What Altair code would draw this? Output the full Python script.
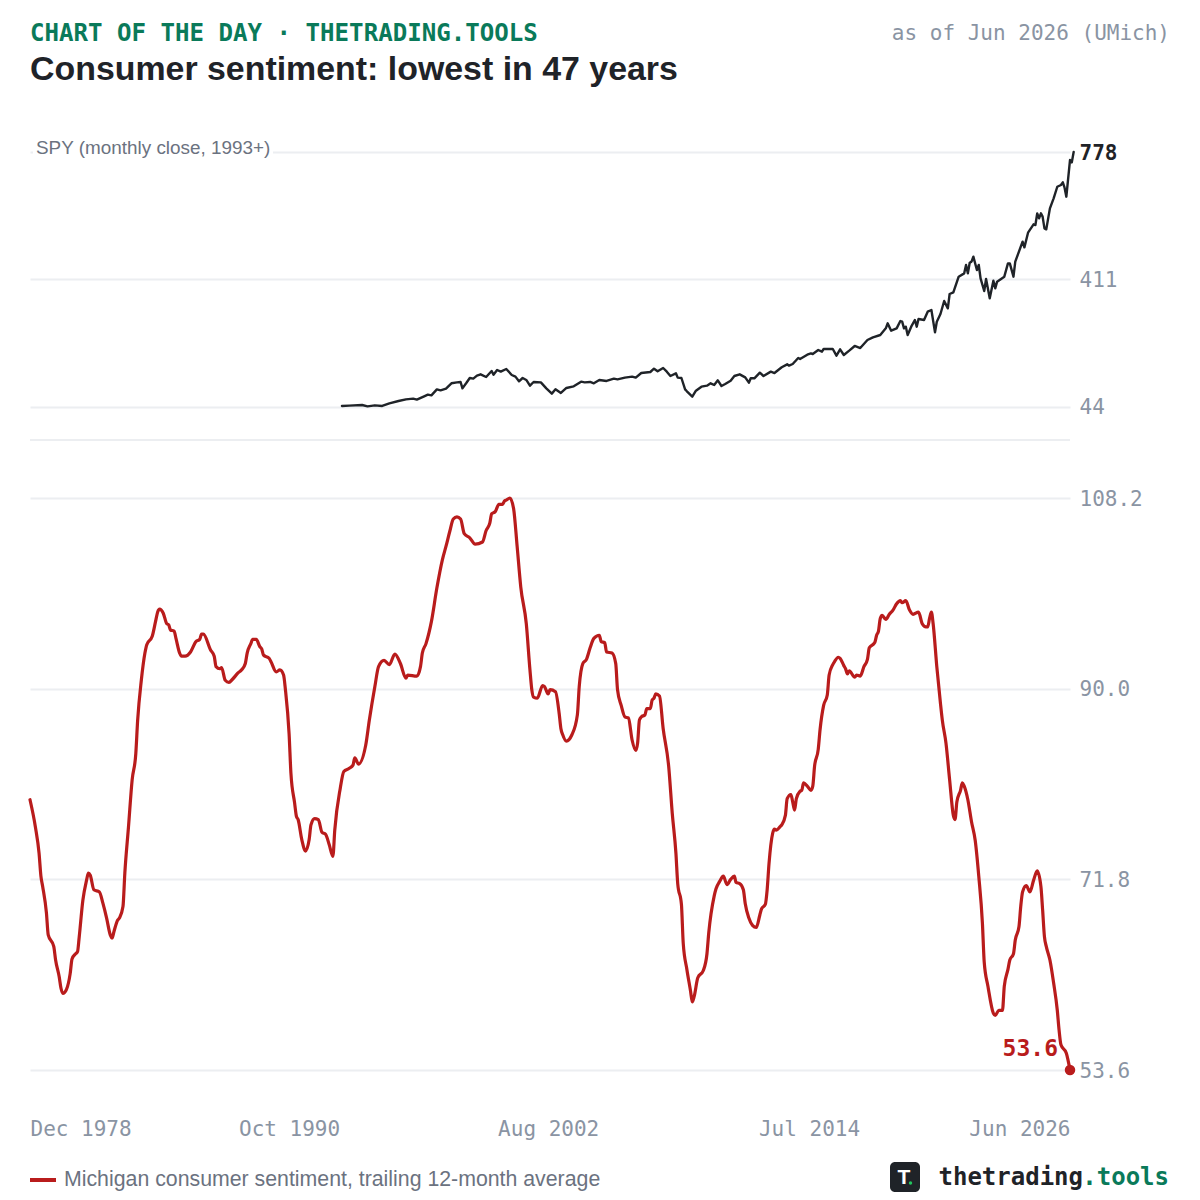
import pandas as pd
import altair as alt

START = pd.Timestamp("1978-12-01", tz="UTC")

SERIES_NAME = "Michigan consumer sentiment, trailing 12-month average"

sent_months = [0,3,5,6,7,9,10,13,14,16,17,18,20,22,23,25,26,27,29,31,32,33,35,38,40,42,44,45,46,48,49,51,52,54,56,58,59,61,63,64,67,69,70,71,73,75,76,77,79,80,82,83,85,88,91,93,94,95,99,101,102,104,105,107,109,111,114,116,118,119,121,122,124,126,127,128,131,132,135,137,139,140,142,143,145,146,147,149,151,153,154,156,158,160,162,164,166,167,170,172,175,177,178,180,184,186,189,191,194,197,200,203,206,207,212,214,215,217,220,223,226,228,230,232,234,236,238,241,244,248,250,252,253,255,257,259,260,261,263,265,267,269,272,274,275,276,278,281,282,284,285,288,290,291,292,294,297,300,301,303,305,307,309,312,313,315,316,319,321,322,324,326,328,330,332,333,334,335,337,338,340,341,342,343,345,347,350,352,354,355,357,358,360,362,363,364,366,369,371,372,375,376,378,380,382,384,386,387,389,391,392,394,396,398,400,401,403,404,405,407,408,409,411,412,414,415,417,418,419,420,422,423,424,426,428,429,430,432,433,435,437,438,440,441,443,444,446,447,448,449,452,453,455,457,459,460,463,464,465,466,467,469,471,473,475,477,478,480,482,484,487,489,491,492,493,494,495,497,499,500,502,504,506,507,508,510,511,512,514,516,518,520,522,523,525,528,529,531,533,534,536,537,539,540,542,543,544,546,548,550,552,554,555,556,557,559,561,563,564,565,568,570]
sent_values = [79.4,76.8,74.3,72.1,71.1,68.6,66.5,65.4,64.1,62.5,61.4,60.9,61.3,62.8,64.2,64.7,64.9,66.3,69.8,71.7,72.4,72.2,70.8,70.6,69.5,68.1,66.5,66.2,66.8,67.9,68.1,69.2,72.4,76.8,81.3,83.8,87.0,90.8,93.4,94.2,95.0,96.6,97.35,97.6,97.2,96.2,96.1,95.6,95.5,94.8,93.4,93.1,93.1,93.5,94.5,94.7,95.2,95.2,93.7,93.1,92.1,91.9,92.0,90.8,90.6,90.9,91.5,91.8,92.4,93.4,94.3,94.7,94.7,94.0,93.8,93.2,92.9,92.6,91.6,91.8,91.3,89.9,85.7,81.9,79.1,77.8,77.5,75.6,74.5,75.6,77.0,77.6,77.5,76.3,76.1,75.1,74.0,76.5,80.5,82.1,82.4,82.7,83.4,82.8,84.6,87.0,90.2,92.1,92.7,92.3,93.3,92.4,91.0,91.3,91.2,92.1,93.4,94.3,96.4,99.6,102.3,103.6,105.0,106.2,106.4,106.2,104.8,104.4,103.8,104.0,105.1,105.8,106.7,106.9,107.6,107.6,107.9,108.0,108.2,107.2,103.6,99.7,96.2,91.8,89.9,89.2,89.1,90.3,90.2,89.5,89.9,89.7,87.6,86.2,85.6,85.0,85.6,87.5,90.2,92.4,92.8,93.9,94.8,95.1,94.5,94.4,93.5,93.4,92.4,89.9,88.4,87.3,87.2,85.1,84.1,84.8,87.0,87.3,87.5,88.1,88.1,88.9,89.1,89.5,89.3,86.2,82.6,78.1,74.3,71.4,69.4,65.7,63.2,61.1,60.1,60.6,62.4,63.1,64.7,66.7,70.2,70.9,71.6,72.1,71.3,71.8,72.1,71.5,71.4,70.8,69.5,68.1,67.4,67.2,68.4,69.0,69.4,70.8,73.3,76.2,76.6,76.5,76.8,77.0,77.9,79.5,79.9,79.2,78.4,79.5,80.2,80.3,81.0,80.7,80.3,80.7,82.6,84.2,86.1,88.4,89.4,91.3,92.3,92.6,93.0,92.9,92.2,91.9,91.4,91.7,91.1,91.3,91.2,92.1,92.8,93.9,94.4,95.1,95.5,96.7,97.0,96.6,97.1,97.5,98.1,98.4,98.2,98.4,97.5,97.1,97.3,96.2,95.9,95.9,96.7,97.3,96.2,92.1,88.6,87.0,84.8,81.3,77.9,77.5,79.2,80.3,81.0,80.7,79.4,77.3,75.5,72.1,67.6,63.9,61.6,59.0,58.8,59.3,59.3,61.6,63.2,64.1,64.7,66.0,67.3,69.2,70.6,71.2,70.6,71.7,72.6,71.1,68.9,66.3,65.4,64.1,61.9,59.3,57.4,56.0,55.2,53.6]

spy_months = [171,175,182,185,189,193,197,202,206,210,212,216,218,220,223,225,228,231,234,236,237,239,241,243,245,247,250,253,254,256,258,261,264,266,268,270,272,274,276,280,283,286,288,291,294,298,302,304,307,309,312,316,320,322,326,330,332,335,340,342,344,347,349,351,354,355,357,359,360,363,365,368,371,373,375,377,379,381,384,386,389,392,394,395,397,400,402,406,408,412,415,416,418,421,422,426,428,429,432,434,435,438,440,442,444,446,449,452,455,459,462,466,469,470,472,475,477,478,479,480,481,483,485,486,487,490,492,494,496,497,499,501,503,504,506,509,512,513,514,515,516,517,519,520,521,523,524,526,528,529,530,534,536,537,539,540,544,545,547,550,551,552,553,554,555,556,557,559,561,563,565,566,567,568,570,571,572]
spy_values = [45.5,46.4,48.4,44.5,47.4,45.5,53.2,59.9,64.7,66.6,63.7,73.4,78.2,76.2,93.5,90.7,95.5,110.9,113.7,114.7,96.4,110.9,126.2,124.3,133,136.8,129.1,146.4,135.8,149.3,144.5,152.2,134.9,130.1,116.6,126.2,120.5,104.1,114.7,113.7,96.4,81.1,93.5,83,97.4,102.2,115.7,113.7,114.7,110.9,120.5,117.6,124.3,122.4,127.2,130.1,127.2,140.7,143.5,153.1,145.5,155.1,144.5,132,139.7,127.2,126.2,93.5,87.8,72.4,89.7,101.2,104.1,110.9,106,119.5,103.2,109,118.5,132,136.8,128.1,112.7,125.3,125.3,141.6,132,144.5,140.6,157,165.6,161.8,166.6,183.9,181,193.5,197.3,195.4,206.9,202.1,209.8,209.8,209.8,190.6,208.9,192.5,205,218.5,212.7,235.8,243.5,250.2,269.4,283.8,262.7,269.4,290.6,288.6,269.4,274.2,250.2,274.2,293.5,274.2,296.4,293.5,317.5,322.3,257.9,288.6,310.8,348.3,327.1,368.4,373.2,418.4,428,452.1,428,458.8,461.7,476.1,437.6,452.1,413.6,377.1,411.7,356,406.9,384.8,404,418.4,456.9,456.9,418.4,461.7,519.4,503,545.3,569.4,567.4,601.1,586.6,601.1,591.5,557.8,554.9,615.5,644.3,677.8,682.8,690.5,676,649.1,754.9,748,778]

spy_ticks = [44, 411, 778]
sent_ticks = [53.6, 71.8, 90.0, 108.2]
x_tick_months = [0, 142, 284, 427, 570]

RED = "#b91c1c"
INK = "#1f2328"
GREEN = "#0a7a5a"
GRID = "#eceef1"
TICK = "#8a94a3"
MUTED = "#6b7280"
MONO = "DejaVu Sans Mono"
SANS = "Liberation Sans"


def ms(month):
    return int((START + pd.DateOffset(months=int(month))).timestamp() * 1000)


sent_df = pd.DataFrame({"date": [ms(m) for m in sent_months], "value": sent_values,
                        "series": SERIES_NAME})
spy_df = pd.DataFrame({"date": [ms(m) for m in spy_months], "value": spy_values})
last_df = sent_df.tail(1).assign(label="53.6")

x_enc = alt.X(
    "date:T",
    title=None,
    scale=alt.Scale(type="utc", domain=[ms(0), ms(570)], range=[0, 1040]),
    axis=alt.Axis(
        values=[ms(m) for m in x_tick_months],
        labelExpr="utcFormat(datum.value, '%b %Y')",
        grid=False, domain=False, ticks=False, labelFlush=True, labelOverlap=False,
        labelFont=MONO, labelFontSize=21, labelColor=TICK, labelPadding=10,
    ),
)

spy_scale = alt.Scale(domain=[44, 778], range=[398.5, 144], nice=False, zero=False)
sent_scale = alt.Scale(domain=[53.6, 108.2], range=[1062, 490], nice=False, zero=False)
axis_common = dict(orient="right", domain=False, ticks=False, grid=True, gridColor=GRID,
                   gridWidth=2, labelFont=MONO, labelFontSize=21, labelPadding=9, labelOffset=1)

spy_line = alt.Chart(spy_df).mark_line(color=INK, strokeWidth=2.4, strokeJoin="round",
                                       strokeCap="round").encode(
    x=x_enc,
    y=alt.Y("value:Q", title=None, scale=spy_scale, axis=alt.Axis(
        values=spy_ticks, format="d",
        labelColor=alt.expr(f"datum.value == 778 ? '{INK}' : '{TICK}'"),
        labelFontWeight=alt.expr("datum.value == 778 ? 'bold' : 'normal'"),
        **axis_common)),
)

sent_line = alt.Chart(sent_df).mark_line(strokeWidth=3.2, strokeJoin="round", strokeCap="round",
                                         interpolate="monotone").encode(
    x=x_enc,
    y=alt.Y("value:Q", title=None, scale=sent_scale, axis=alt.Axis(
        values=sent_ticks, format=".1f", labelColor=TICK, **axis_common)),
    color=alt.Color("series:N", scale=alt.Scale(domain=[SERIES_NAME], range=[RED]),
                    legend=alt.Legend(
                        orient="none", legendX=-2, legendY=1157, title=None, padding=0,
                        symbolType="stroke", symbolSize=676, symbolStrokeWidth=4,
                        labelFont=SANS, labelFontSize=21.3, labelColor=MUTED, labelOffset=6,
                        labelLimit=700)),
)

sent_y_hidden = alt.Y("value:Q", title=None, scale=sent_scale, axis=None)
last_point = alt.Chart(last_df).mark_circle(color=RED, size=110, opacity=1).encode(
    x=x_enc, y=sent_y_hidden)
last_label = alt.Chart(last_df).mark_text(
    color=RED, font=MONO, fontWeight="bold", fontSize=23, align="right", baseline="alphabetic",
    dx=-12, dy=-14).encode(x=x_enc, y=sent_y_hidden, text="label:N")


def one():
    return alt.Chart(pd.DataFrame({"a": [0]}))


def label(text, x, y, **kw):
    """x, y given in page pixels"""
    kw.setdefault("baseline", "alphabetic")
    return one().mark_text(text=text, **kw).encode(x=alt.value(x - 30), y=alt.value(y - 8))


separator = one().mark_rule(color=GRID, strokeWidth=2).encode(
    x=alt.value(0), x2=alt.value(1040), y=alt.value(432))
spy_mask = one().mark_rect(color="white").encode(
    x=alt.value(3), x2=alt.value(243), y=alt.value(128), y2=alt.value(152))
logo_box = one().mark_rect(color=INK, cornerRadius=5).encode(
    x=alt.value(860), x2=alt.value(890), y=alt.value(1154), y2=alt.value(1184))
logo_dot = one().mark_circle(color="#22c55e", size=12, opacity=1).encode(
    x=alt.value(880.5), y=alt.value(1175))

chart = alt.layer(
    spy_mask,
    separator,
    spy_line,
    sent_line,
    last_point,
    last_label,
    label("SPY (monthly close, 1993+)", 36, 154, font=SANS, fontSize=18.9, color=MUTED, align="left"),
    label("CHART OF THE DAY · THETRADING.TOOLS", 30, 41, font=MONO, fontWeight="bold",
          fontSize=24.1, color=GREEN, align="left"),
    label("Consumer sentiment: lowest in 47 years", 30, 80, font=SANS, fontWeight="bold",
          fontSize=33.9, color=INK, align="left"),
    label("as of Jun 2026 (UMich)", 1170, 40, font=MONO, fontSize=21, color=TICK, align="right"),
    logo_box,
    logo_dot,
    label("T", 904, 1184, font=SANS, fontWeight="bold", fontSize=21, color="white", align="center"),
    label("thetrading", 1083, 1185, font=MONO, fontWeight="bold", fontSize=24, color=INK, align="right"),
    label(".tools", 1169, 1185, font=MONO, fontWeight="bold", fontSize=24, color=GREEN, align="right"),
).resolve_scale(y="independent").properties(
    width=1040,
    height=1100,
    padding={"left": 22, "top": 0, "right": 122, "bottom": 84},
    autosize="none",
    background="white",
).configure_view(stroke=None)

chart.save("out.html", embed_options={"renderer": "svg", "actions": False})
